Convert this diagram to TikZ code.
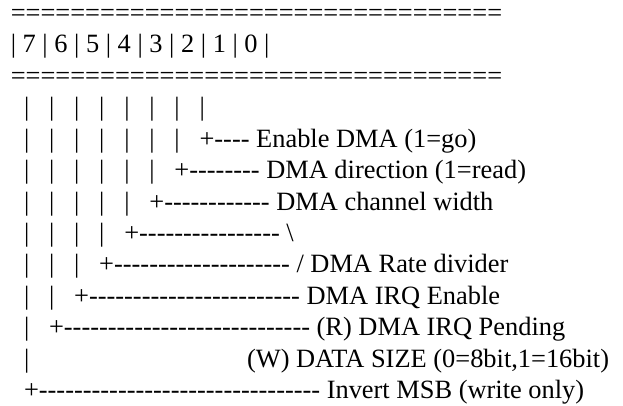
\documentclass[tikz,border=0pt]{standalone}
\usepackage{fontspec}
\setmainfont{Liberation Serif}
\frenchspacing
\ExplSyntaxOn
\NewDocumentCommand\dsh{m}{\prg_replicate:nn{#1}{\mbox{-}}}
\NewDocumentCommand\eqs{m}{\prg_replicate:nn{#1}{\mbox{=}}}
\ExplSyntaxOff
\newcommand\sps[1]{\hskip #1\fontdimen2\font\relax}
\begin{document}
\begin{tikzpicture}[x=1pt,y=1pt,
  asc/.style={anchor=base west,inner sep=0pt,outer sep=0pt,font=\fontsize{26.4pt}{30pt}\selectfont}]
\useasboundingbox (0,0) rectangle (623,405);
\def\lx{10.8}
\def\bl#1{405-21.3-(#1-1)*31.45}
\node[asc] (l1) at (\lx,{\bl{1}}) {\eqs{33}};
\node[asc] (l2) at (\lx,{\bl{2}}) {|\sps{1}7\sps{1}|\sps{1}6\sps{1}|\sps{1}5\sps{1}|\sps{1}4\sps{1}|\sps{1}3\sps{1}|\sps{1}2\sps{1}|\sps{1}1\sps{1}|\sps{1}0\sps{1}|};
\node[asc] (l3) at (\lx,{\bl{3}}) {\eqs{33}};
\node[asc] (l4) at (\lx,{\bl{4}}) {\sps{2}|\sps{3}|\sps{3}|\sps{3}|\sps{3}|\sps{3}|\sps{3}|\sps{3}|};
\node[asc] (l5) at (\lx,{\bl{5}}) {\sps{2}|\sps{3}|\sps{3}|\sps{3}|\sps{3}|\sps{3}|\sps{3}|\sps{3}+\dsh{4}\sps{1}Enable DMA (1=go)};
\node[asc] (l6) at (\lx,{\bl{6}}) {\sps{2}|\sps{3}|\sps{3}|\sps{3}|\sps{3}|\sps{3}|\sps{3}+\dsh{8}\sps{1}DMA direction (1=read)};
\node[asc] (l7) at (\lx,{\bl{7}}) {\sps{2}|\sps{3}|\sps{3}|\sps{3}|\sps{3}|\sps{3}+\dsh{12}\sps{1}DMA channel width};
\node[asc] (l8) at (\lx,{\bl{8}}) {\sps{2}|\sps{3}|\sps{3}|\sps{3}|\sps{3}+\dsh{16}\sps{1}\textbackslash};
\node[asc] (l9) at (\lx,{\bl{9}}) {\sps{2}|\sps{3}|\sps{3}|\sps{3}+\dsh{20}\sps{1}/ DMA Rate divider};
\node[asc] (l10) at (\lx,{\bl{10}}) {\sps{2}|\sps{3}|\sps{3}+\dsh{24}\sps{1}DMA IRQ Enable};
\node[asc] (l11) at (\lx,{\bl{11}}) {\sps{2}|\sps{3}+\dsh{28}\sps{1}(R) DMA IRQ Pending};
\node[asc] (l12) at (\lx,{\bl{12}}) {\sps{2}|\sps{33}(W) DATA SIZE (0=8bit,1=16bit)};
\node[asc] (l13) at (\lx,{\bl{13}}) {\sps{2}+\dsh{32}\sps{1}Invert MSB (write only)};
\end{tikzpicture}
\end{document}
